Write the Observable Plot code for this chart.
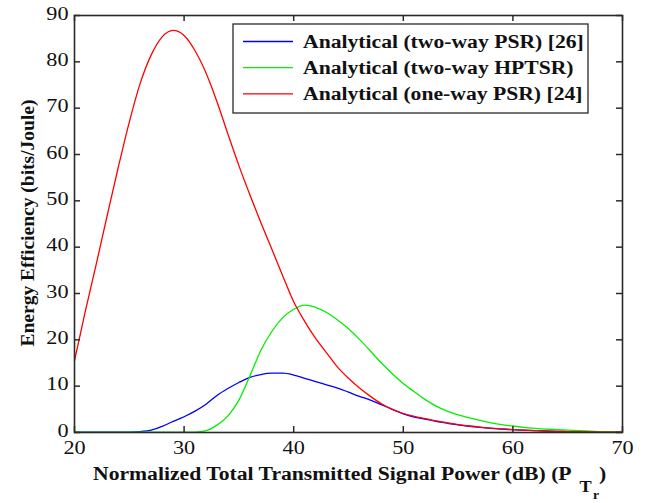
<!DOCTYPE html>
<html><head><meta charset="utf-8">
<script src="https://cdn.jsdelivr.net/npm/d3@7"></script>
<script src="https://cdn.jsdelivr.net/npm/@observablehq/plot@0.6"></script>
<style>body{margin:0;background:#fff} #chart svg, #chart svg text{font-family:"Liberation Serif","Times New Roman",serif}</style>
</head><body><div id="chart"></div>
<script>
const powerDb = [20,21,22,23,24,25,26,27,28,29,30,31,32,33,34,35,36,37,38,39,40,41,42,43,44,45,46,47,48,49,50,51,52,53,54,55,56,57,58,59,60,61,62,63,64,65,66,67,68,69,70];
const twoWayPSR = [0.1,0.1,0.1,0.1,0.1,0.1,0.2,0.5,1.3,2.4,3.4,4.6,6.1,8.0,9.5,10.8,11.9,12.5,12.8,12.8,12.4,11.7,11.0,10.3,9.6,8.7,7.8,7.0,6.0,5.0,4.0,3.3,2.9,2.4,2.0,1.65,1.35,1.1,0.9,0.75,0.6,0.5,0.4,0.32,0.25,0.2,0.16,0.12,0.1,0.08,0.06];
const twoWayHPTSR = [0.05,0.05,0.05,0.05,0.05,0.05,0.05,0.05,0.05,0.05,0.05,0.1,0.4,1.6,3.6,7.0,12.2,17.7,21.8,24.8,26.6,27.5,27.0,25.9,24.3,22.4,20.1,17.6,15.0,12.7,10.6,8.8,7.1,5.7,4.6,3.8,3.2,2.6,2.1,1.7,1.4,1.1,0.9,0.75,0.6,0.5,0.38,0.3,0.2,0.15,0.1];
const oneWayPSR = [15.5,26.3,36.5,47,57.3,67,75.4,81.5,85.4,86.8,85.7,82.4,77.6,71.4,64.4,57.6,51.3,45.3,39.6,33.8,28.2,24.0,20.3,17.2,14.1,11.7,9.6,7.8,6.2,5.0,4.1,3.5,3.0,2.5,2.1,1.7,1.4,1.15,0.95,0.78,0.63,0.5,0.4,0.32,0.25,0.2,0.16,0.12,0.1,0.08,0.06];
const xTicks = [20,30,40,50,60,70];
const yTicks = [0,10,20,30,40,50,60,70,80,90];
const seriesNames = ["Analytical (two-way PSR) [26]","Analytical (two-way HPTSR)","Analytical (one-way PSR) [24]"];
const seriesColors = ["#0000ff","#00f000","#ff0000"];
const seriesValues = [twoWayPSR, twoWayHPTSR, oneWayPSR];

const W = 646, H = 503, mL = 74, mR = 24, mT = 15, mB = 71;
const innerW = W - mL - mR, innerH = H - mT - mB, tickLen = 6, stretch = 1.14;
const axisColor = "#2a2a2a";
const serif = "'Liberation Serif', 'Times New Roman', serif";
const lineMarks = seriesValues.map((vals, s) =>
  Plot.line(powerDb.map((p, i) => ({p, v: vals[i]})), {x: "p", y: "v", stroke: seriesColors[s], strokeWidth: 1.3, curve: "monotone-x"})
);

const plot = Plot.plot({
  width: W, height: H,
  marginLeft: mL, marginRight: mR, marginTop: mT, marginBottom: mB,
  x: {domain: [20, 70]},
  y: {domain: [0, 90]},
  style: {fontFamily: serif, fontSize: "19.5px", background: "white", color: "#111", overflow: "visible"},
  marks: [
    ...lineMarks,
    Plot.tickX(xTicks, {x: d => d, stroke: axisColor, strokeWidth: 1.5, insetTop: innerH - tickLen}),
    Plot.tickX(xTicks, {x: d => d, stroke: axisColor, strokeWidth: 1.5, insetBottom: innerH - tickLen}),
    Plot.tickY(yTicks, {y: d => d, stroke: axisColor, strokeWidth: 1.5, insetRight: innerW - tickLen}),
    Plot.tickY(yTicks, {y: d => d, stroke: axisColor, strokeWidth: 1.5, insetLeft: innerW - tickLen}),
    Plot.axisX(xTicks, {anchor: "bottom", tickSize: 0, tickPadding: 8, label: null, fill: "#111"}),
    Plot.axisY(yTicks, {anchor: "left", tickSize: 0, tickPadding: 6, dy: -2, label: null, fill: "#111"}),
    Plot.frame({stroke: axisColor, strokeWidth: 1.6})
  ]
});
document.getElementById("chart").appendChild(plot);

const svg = d3.select(plot);
// the reference image is slightly stretched horizontally: widen tick label glyphs
svg.selectAll('g[aria-label="x-axis tick label"] text, g[aria-label="y-axis tick label"] text')
  .each(function() {
    const t = d3.select(this);
    t.attr("transform", (t.attr("transform") || "") + ` scale(${stretch},1)`);
  });
// y label
svg.append("text")
  .attr("transform", "translate(27,223) rotate(-90)")
  .attr("text-anchor", "middle").attr("dominant-baseline", "central")
  .attr("font-family", serif)
  .attr("font-size", 19.5).attr("font-weight", "bold").attr("fill", "#111")
  .text("Energy Efficiency (bits/Joule)");
// x label
const xl = svg.append("text").attr("transform", `translate(93,480) scale(${stretch},1)`).attr("text-anchor", "start")
  .attr("font-family", serif)
  .attr("font-size", 19).attr("font-weight", "bold").attr("fill", "#111");
xl.append("tspan").text("Normalized Total Transmitted Signal Power (dB) (P");
xl.append("tspan").attr("dx", 7).attr("dy", 12).attr("font-size", 16).text("T");
xl.append("tspan").attr("dx", 1).attr("dy", 7).attr("font-size", 12).text("r");
xl.append("tspan").attr("dx", 0).attr("dy", -19).text(")");
// legend
const lg = svg.append("g");
lg.append("rect").attr("x", 233).attr("y", 24).attr("width", 355).attr("height", 89)
  .attr("fill", "white").attr("stroke", axisColor).attr("stroke-width", 1.3);
seriesNames.forEach((name, i) => {
  const yy = 41.5 + i * 26.2;
  lg.append("line").attr("x1", 243).attr("x2", 293).attr("y1", yy).attr("y2", yy)
    .attr("stroke", seriesColors[i]).attr("stroke-width", 1.3);
  lg.append("text").attr("transform", `translate(303,${yy}) scale(${stretch},1)`)
    .attr("text-anchor", "start").attr("dominant-baseline", "central")
    .attr("font-family", serif)
    .attr("font-size", 19).attr("font-weight", "bold").attr("fill", "#111").text(name);
});
</script></body></html>
